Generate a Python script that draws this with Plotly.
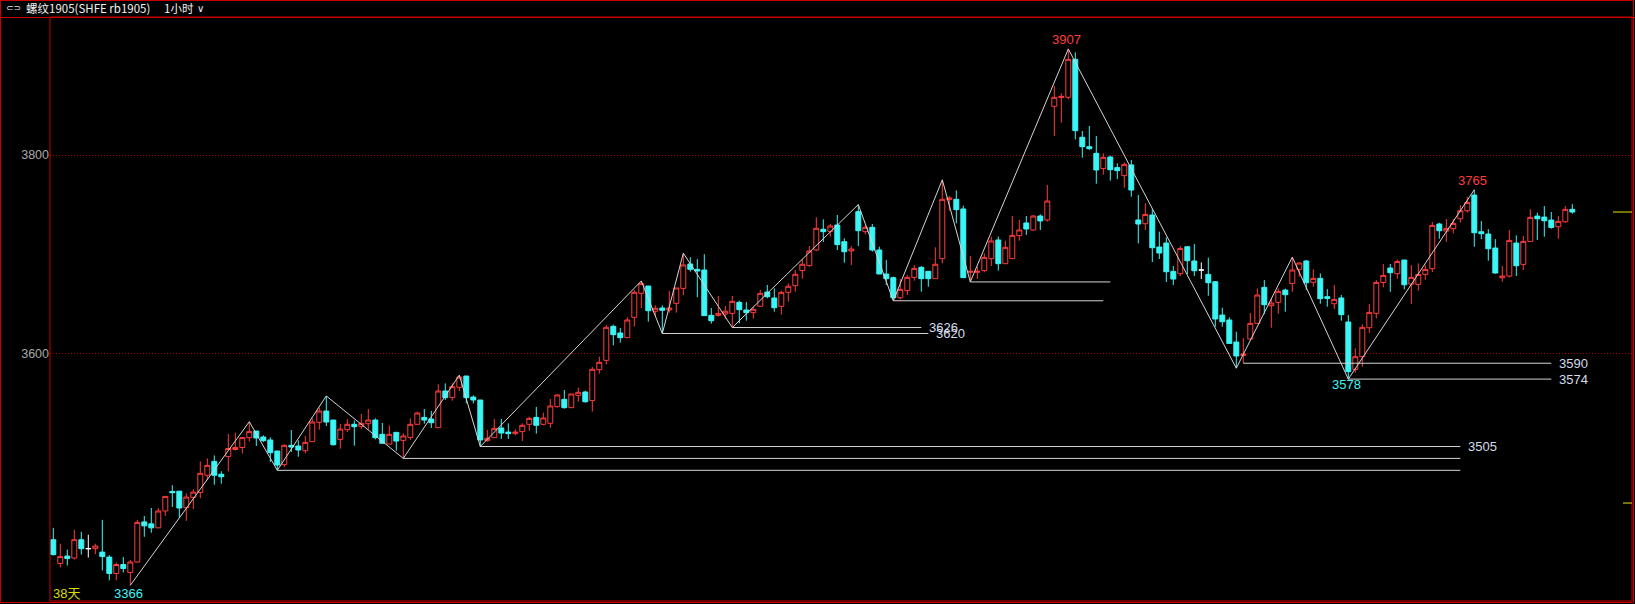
import plotly.graph_objects as go

# ---------------- data (1-hour bars, rb1905) ----------------
open_ = [
    3412, 3388, 3395.5, 3393.5, 3412, 3403, 3403, 3399.5, 3394.5, 3378,
    3387, 3379, 3389.5, 3430, 3428, 3424, 3441, 3460.7, 3461, 3444.3,
    3454.7, 3459.7, 3477, 3491, 3478, 3496, 3503, 3505, 3515, 3521.6,
    3515.6, 3512.6, 3501.5, 3487.7, 3507.2, 3506.5, 3501.8, 3510.9, 3530.4, 3541.8,
    3532.7, 3513.2, 3523, 3528.4, 3526.3, 3529, 3532.7, 3518.3, 3508.5, 3520.3,
    3512.2, 3515.2, 3528.4, 3535.4, 3533.7, 3525, 3562, 3555.3, 3565.7, 3577.1,
    3555.9, 3552.9, 3511.9, 3514.9, 3524.7, 3520.6, 3519, 3521, 3528.4, 3535.4,
    3528.4, 3529.4, 3546.2, 3553.6, 3545.2, 3557.6, 3561, 3552.3, 3583.5, 3592.9,
    3627.2, 3620.5, 3615.8, 3636.3, 3660.5, 3667.9, 3642.4, 3645.7, 3643.7, 3650.4,
    3665.5, 3690.1, 3684.7, 3684, 3638.3, 3638.3, 3639.7, 3640.3, 3651.4, 3643.7,
    3641, 3647.4, 3661.8, 3655.8, 3647.4, 3661.5, 3668.2, 3683.4, 3688.4, 3704.2,
    3725.1, 3723, 3729.4, 3712.6, 3703.2, 3742.9, 3722.7, 3727.1, 3704.2, 3680,
    3676.3, 3656.1, 3663.2, 3676.6, 3686.7, 3682.7, 3675.3, 3695.5, 3755, 3755.3,
    3745.6, 3681.7, 3681.7, 3683.4, 3695.5, 3714.3, 3690.4, 3695.5, 3718.7, 3731.5,
    3724.4, 3738.5, 3734.5, 3849.1, 3857.9, 3858.2, 3896.5, 3817.9, 3808.4, 3801.7,
    3786.3, 3798, 3787.3, 3779.2, 3790, 3734.5, 3730.7, 3739.5, 3707.2, 3711.2,
    3682.6, 3680.3, 3707.5, 3693.1, 3684, 3679.6, 3672.2, 3638.6, 3633.6, 3611.4,
    3597.9, 3614.4, 3630.2, 3666.5, 3648, 3651.4, 3663.8, 3670.5, 3684.7, 3693.1,
    3671.6, 3675.6, 3657.1, 3650, 3655.8, 3631.6, 3583.8, 3596.6, 3625.8, 3640.3,
    3671.5, 3686, 3680.3, 3694.1, 3669.8, 3669.5, 3679.6, 3685.3, 3730.4, 3723.3,
    3725.7, 3735.7, 3743.8, 3759.6, 3722.6, 3720.3, 3706.2, 3676.2, 3677.9, 3711.2,
    3689.7, 3712.9, 3738.4, 3737.4, 3734.4, 3727.7, 3732.7, 3745.2,
]
high_ = [
    3424, 3408, 3402, 3422, 3420, 3417, 3408, 3432, 3396.5, 3389,
    3394.5, 3391.5, 3432, 3436, 3444, 3444, 3456, 3467, 3461, 3458.7,
    3463, 3491, 3494, 3497, 3481, 3518.6, 3520, 3515.5, 3531, 3521.6,
    3517.3, 3515.2, 3501.5, 3508.2, 3522.6, 3512.2, 3516.6, 3534.4, 3545.2, 3557,
    3532.7, 3528.7, 3533.7, 3532.1, 3538.8, 3543.8, 3534.4, 3529.7, 3527.3, 3520.3,
    3519.3, 3534.4, 3541.1, 3543.8, 3541.8, 3568.7, 3569.7, 3569.7, 3578, 3577.1,
    3557.6, 3552.9, 3522.7, 3533.8, 3533.8, 3529.4, 3523.3, 3529.4, 3536.1, 3545.9,
    3540.1, 3553.9, 3559, 3563, 3559, 3565.4, 3562.3, 3586.2, 3596.6, 3628.6,
    3628.9, 3625.5, 3636.3, 3663.9, 3673, 3667.9, 3648.4, 3648.4, 3662.9, 3665.9,
    3701, 3696.8, 3695, 3700, 3645.7, 3657.8, 3647.7, 3657.8, 3653.1, 3651.8,
    3647.1, 3663.9, 3668.9, 3665.5, 3663.2, 3670.6, 3684, 3695.1, 3708.2, 3737.2,
    3735.1, 3730.4, 3739.5, 3716, 3708.2, 3750, 3729.4, 3730.4, 3707.6, 3694.1,
    3677.3, 3675, 3679, 3688.8, 3688.1, 3682.7, 3706.9, 3775, 3758.7, 3764.4,
    3748.9, 3698.2, 3687.4, 3700.9, 3717.7, 3717.7, 3713.6, 3738.5, 3734.5, 3738.5,
    3739.5, 3740.2, 3769.8, 3869.6, 3862.2, 3907, 3903.6, 3824.2, 3829.3, 3819.2,
    3801.7, 3799.4, 3791.6, 3792.3, 3795, 3759.7, 3751.2, 3745.2, 3722.7, 3716.9,
    3688, 3708.2, 3707.5, 3710.2, 3691.7, 3696.4, 3672.9, 3646, 3636.3, 3621.8,
    3615.4, 3640.6, 3665.5, 3673.9, 3655.4, 3665.5, 3665.2, 3697, 3691.7, 3694.1,
    3684.7, 3680.6, 3664.8, 3668.9, 3658.8, 3638.6, 3605, 3629.2, 3649.7, 3673.9,
    3690, 3690, 3694.7, 3694.1, 3689, 3690.7, 3689, 3732.4, 3731.7, 3735.4,
    3735.4, 3749.5, 3757.9, 3765, 3733.4, 3725.3, 3715.2, 3688, 3724.3, 3718.9,
    3718.3, 3745.2, 3741.8, 3748.5, 3742.5, 3738.4, 3748.5, 3750.5,
]
low_ = [
    3396, 3384, 3386, 3392, 3397, 3394, 3397.5, 3381, 3371, 3371,
    3379, 3366, 3389, 3415, 3419, 3424, 3436, 3445, 3434, 3431,
    3443, 3454, 3472, 3467.5, 3468.5, 3481, 3502, 3499, 3511, 3506.5,
    3510.5, 3490.4, 3482, 3485.3, 3500.5, 3495.7, 3499.1, 3510.9, 3523, 3526.7,
    3507, 3503.8, 3520.6, 3506.8, 3523.6, 3523, 3513.2, 3509.2, 3508.5, 3501.8,
    3494, 3512.6, 3528.4, 3529, 3524.7, 3525, 3552.9, 3552.2, 3562, 3549.5,
    3549.5, 3506, 3510.9, 3514.9, 3513.6, 3513.6, 3517.3, 3511.6, 3522, 3519,
    3527.4, 3525, 3545.2, 3544.2, 3545.2, 3551.2, 3550.2, 3541.2, 3579.5, 3588.6,
    3608.1, 3610.7, 3615.8, 3626.9, 3645.7, 3631.9, 3637.6, 3620, 3641, 3641,
    3658.5, 3682.4, 3656.5, 3638, 3629.9, 3637, 3635, 3626, 3630.2, 3632.9,
    3635, 3647.4, 3655.5, 3642, 3639, 3652.1, 3662.2, 3675.3, 3687.4, 3703.2,
    3712.3, 3717.7, 3704.2, 3691.4, 3689.1, 3708.2, 3720, 3702.5, 3680, 3668.9,
    3653, 3654.5, 3658.8, 3673.3, 3662.2, 3667.2, 3675.3, 3690.8, 3743.9, 3731.1,
    3676.3, 3672, 3675, 3681.7, 3688.1, 3683.4, 3690.4, 3695.5, 3713.6, 3719.4,
    3723.4, 3724.4, 3732.8, 3819.2, 3832.6, 3856.2, 3815.8, 3797.3, 3805.1, 3771.1,
    3780.2, 3774.2, 3775.8, 3767.1, 3758, 3710.9, 3724.3, 3692.1, 3695.1, 3671.9,
    3668.9, 3677.9, 3680, 3677.9, 3674.9, 3658.1, 3626.8, 3626.8, 3610, 3585,
    3590, 3614.4, 3630.2, 3639.6, 3625.8, 3639.9, 3642, 3662.1, 3677.3, 3663.8,
    3667.2, 3650, 3647, 3644.7, 3632.9, 3574, 3580.4, 3586.5, 3620.8, 3635.2,
    3666.5, 3662.1, 3675.2, 3664.5, 3649.7, 3663.1, 3674.2, 3681.9, 3715.6, 3712.5,
    3720.9, 3731.7, 3741.8, 3707.5, 3715.2, 3693.4, 3680.3, 3672.2, 3676.6, 3677.9,
    3684, 3712.9, 3714.2, 3717.6, 3725.7, 3715.6, 3731.7, 3740.8,
]
close_ = [
    3397, 3395, 3393, 3412, 3403, 3403, 3405.6, 3395, 3378, 3387,
    3383, 3389.5, 3429.5, 3426, 3424, 3441, 3455.7, 3459.4, 3444, 3455,
    3460, 3479, 3487, 3477, 3475.5, 3504, 3505, 3515, 3521, 3514.6,
    3511.9, 3499.8, 3487.3, 3507.2, 3505.5, 3502.5, 3510.2, 3530.7, 3541.8, 3530.7,
    3507.8, 3523.6, 3528.4, 3526, 3529.4, 3532.7, 3514.9, 3509.2, 3518.3, 3511.5,
    3516.6, 3528.4, 3539.8, 3532.7, 3530, 3562, 3555.3, 3566.3, 3576.1, 3555.3,
    3552.9, 3512.6, 3514.3, 3524.3, 3519.6, 3519, 3520.6, 3527.4, 3534.4, 3527.4,
    3534.8, 3546.9, 3558, 3545.2, 3559, 3560.7, 3551.2, 3583.9, 3590.9, 3626.2,
    3618.8, 3615.8, 3633.6, 3661.5, 3670.3, 3643, 3645.4, 3643.4, 3645.7, 3665.9,
    3689.1, 3684.7, 3683, 3638, 3632.9, 3640.3, 3642.4, 3652.4, 3644, 3641,
    3644.4, 3660.5, 3657.1, 3646, 3661.5, 3667.6, 3679.7, 3689.8, 3703.2, 3726.1,
    3722.7, 3728.4, 3709.6, 3702.5, 3705.2, 3723.7, 3727.1, 3704.2, 3680, 3675.3,
    3656.1, 3664.5, 3676.6, 3685.7, 3675.3, 3675.3, 3689.8, 3755.3, 3756.7, 3744.9,
    3676.3, 3682.7, 3682.7, 3696.8, 3713.3, 3690.4, 3706.9, 3719, 3724.4, 3725.4,
    3738.5, 3733.5, 3753.6, 3858.2, 3859.2, 3896.5, 3824.6, 3808.4, 3806.4, 3784.9,
    3797.7, 3785.2, 3784.2, 3790.6, 3764.7, 3730.4, 3740.1, 3706.5, 3701.2, 3682.3,
    3674.9, 3705.8, 3693.4, 3683.3, 3684, 3671.2, 3634.6, 3631.9, 3610, 3597.3,
    3599.3, 3630.2, 3658.8, 3649, 3650.7, 3662.5, 3659.1, 3684, 3691.1, 3671.2,
    3675.6, 3655.1, 3655.4, 3654.4, 3639, 3581.5, 3596.6, 3626.2, 3641.3, 3671.5,
    3678.6, 3681.3, 3692.7, 3669.2, 3676.6, 3679.6, 3684.6, 3729, 3723.6, 3726,
    3731, 3743.8, 3752.2, 3721.6, 3720.6, 3705.5, 3681, 3677.9, 3713.9, 3688.3,
    3712.9, 3737.1, 3735.7, 3733.7, 3727, 3733.1, 3745.2, 3742.5,
]

# zigzag pivots (1-based bar numbers), alternating low / high starting with a low
zigzag_bars = [12, 29, 33, 40, 51, 59, 62, 85, 88, 91, 98, 116, 121, 128, 132, 146, 170, 178, 186, 204]

# horizontal support lines: start bar (its low), end bar, label
support_start = [33, 51, 62, 88, 98, 121, 132, 171, 186]
support_end = [202, 202, 202, 126, 125, 151, 152, 215, 215]
support_label = ["", "", "3505", "3620", "3626", "", "", "3590", "3574"]

# extreme labels
peak_bars = [146, 204]
peak_text = ["3907", "3765"]
trough_bars = [186, 12]
trough_text = ["3578", "3366"]

y_ticks = [3600, 3800]
aux_level = 3449

title_main = "螺纹1905(SHFE rb1905)"
title_period = "1小时"
days_text = "38天"

# ---------------- styling ----------------
UP = "#ff3c3c"
DN = "#3cf5f5"
FRAME = "#c80000"
GRID = "#a00000"
LINEC = "#d4d4d4"
W, H = 1635, 604
ML, MR, MT, MB = 50, 3, 17, 3
PW, PH = W - ML - MR, H - MT - MB
SPACING = 7.0
FIRST_X = 53.3
NUMFONT = "Liberation Sans, Arial, sans-serif"
TROUGH_SHIFT = [4, 1]


def px(xp):
    return (xp - ML) / PW


def py(yp):
    return (H - MB - yp) / PH


n = len(open_)
xs = list(range(n))
x_range = [(ML - FIRST_X) / SPACING, (ML + PW - FIRST_X) / SPACING]
y_range = [3350.2, 3939.2]

normal = [i for i in xs if close_[i] != open_[i]]
doji = [i for i in xs if close_[i] == open_[i]]

fig = go.Figure()

# support lines
sx, sy = [], []
for s, e in zip(support_start, support_end):
    sx += [s - 1, e - 1, None]
    sy += [low_[s - 1], low_[s - 1], None]
fig.add_trace(go.Scatter(x=sx, y=sy, mode="lines", line=dict(color=LINEC, width=1),
                         hoverinfo="skip", showlegend=False))

# zigzag
zx = [b - 1 for b in zigzag_bars]
zy = [low_[b - 1] if k % 2 == 0 else high_[b - 1] for k, b in enumerate(zigzag_bars)]
fig.add_trace(go.Scatter(x=zx, y=zy, mode="lines", line=dict(color=LINEC, width=1),
                         hoverinfo="skip", showlegend=False))

fig.add_trace(go.Candlestick(
    x=[xs[i] for i in normal],
    open=[open_[i] for i in normal], high=[high_[i] for i in normal],
    low=[low_[i] for i in normal], close=[close_[i] for i in normal],
    increasing=dict(line=dict(color=UP, width=1), fillcolor="#000000"),
    decreasing=dict(line=dict(color=DN, width=1), fillcolor=DN),
    whiskerwidth=0, showlegend=False, hoverinfo="skip"))

fig.add_trace(go.Candlestick(
    x=[xs[i] for i in doji],
    open=[open_[i] for i in doji], high=[high_[i] for i in doji],
    low=[low_[i] for i in doji], close=[close_[i] for i in doji],
    increasing=dict(line=dict(color="#ffffff", width=1), fillcolor="#ffffff"),
    decreasing=dict(line=dict(color="#ffffff", width=1), fillcolor="#ffffff"),
    whiskerwidth=0, showlegend=False, hoverinfo="skip"))

annotations = []
for s, e, lab in zip(support_start, support_end, support_label):
    if lab:
        annotations.append(dict(x=e - 1 + 0.8, y=low_[s - 1], xref="x", yref="y", text=lab,
                                showarrow=False, xanchor="left", yanchor="middle",
                                font=dict(family=NUMFONT, size=13, color="#d4dcec")))
for b, t in zip(peak_bars, peak_text):
    annotations.append(dict(x=b - 1, y=high_[b - 1], xref="x", yref="y", text=t,
                            showarrow=False, xanchor="center", yanchor="bottom", xshift=-2, yshift=0,
                            font=dict(family=NUMFONT, size=13, color=UP)))
for b, t, ys in zip(trough_bars, trough_text, TROUGH_SHIFT):
    annotations.append(dict(x=b - 1, y=low_[b - 1], xref="x", yref="y", text=t,
                            showarrow=False, xanchor="center", yanchor="top", xshift=-2, yshift=ys,
                            font=dict(family=NUMFONT, size=13, color=DN)))

# header + corner texts
annotations.append(dict(x=px(4), y=py(8.5), xref="paper", yref="paper", text="⊂⊃",
                        showarrow=False, xanchor="left", yanchor="middle",
                        font=dict(family="DejaVu Sans", size=9, color="#e0e0e0")))
annotations.append(dict(x=px(24), y=py(8.5), xref="paper", yref="paper", text=title_main,
                        showarrow=False, xanchor="left", yanchor="middle",
                        font=dict(family="Noto Sans CJK SC", size=11.5, color="#f0f0f0")))
annotations.append(dict(x=px(162), y=py(8.5), xref="paper", yref="paper", text=title_period,
                        showarrow=False, xanchor="left", yanchor="middle",
                        font=dict(family="Noto Sans CJK SC", size=11.5, color="#f0f0f0")))
annotations.append(dict(x=px(195), y=py(8.5), xref="paper", yref="paper", text="∨",
                        showarrow=False, xanchor="left", yanchor="middle",
                        font=dict(family="DejaVu Sans", size=10, color="#f0f0f0")))
annotations.append(dict(x=px(51), y=py(593), xref="paper", yref="paper", text=days_text,
                        showarrow=False, xanchor="left", yanchor="middle",
                        font=dict(family="Liberation Sans, Noto Sans CJK SC", size=13, color="#dcdc00")))

shapes = [
    # outer border
    dict(type="rect", xref="paper", yref="paper", x0=px(0.5), x1=px(W - 1.5), y0=py(H - 1.5), y1=py(0.5),
         line=dict(color=FRAME, width=1), fillcolor="rgba(0,0,0,0)", layer="above"),
    # header separator
    dict(type="line", xref="paper", yref="paper", x0=px(0), x1=px(W), y0=py(17.5), y1=py(17.5),
         line=dict(color=FRAME, width=1), layer="above"),
    # plot frame
    dict(type="rect", xref="paper", yref="paper", x0=0, x1=1, y0=0, y1=1,
         line=dict(color=FRAME, width=1), fillcolor="rgba(0,0,0,0)", layer="above"),
    # last price marker
    dict(type="line", xref="paper", yref="y", x0=px(1613), x1=1, y0=close_[-1], y1=close_[-1],
         line=dict(color="#e6e600", width=1), layer="above"),
    dict(type="line", xref="paper", yref="y", x0=px(1623), x1=1, y0=aux_level, y1=aux_level,
         line=dict(color="#e6e600", width=1), layer="above"),
]

fig.update_layout(
    width=W, height=H,
    margin=dict(l=ML, r=MR, t=MT, b=MB, pad=0),
    paper_bgcolor="#000000", plot_bgcolor="#000000",
    showlegend=False,
    boxgap=0.29, boxgroupgap=0,
    hovermode=False,
    xaxis=dict(range=x_range, visible=False, showgrid=False, zeroline=False,
               rangeslider=dict(visible=False), fixedrange=True),
    yaxis=dict(range=y_range, tickvals=y_ticks, ticktext=[str(v) for v in y_ticks],
               showgrid=True, gridcolor=GRID, griddash="1px,2px", gridwidth=1,
               zeroline=False, showline=False, ticks="",
               tickfont=dict(family=NUMFONT, size=12.5, color="#a8a8a8"), fixedrange=True),
    annotations=annotations,
    shapes=shapes,
)

fig.write_html("out.html", config={"displayModeBar": False, "staticPlot": True},
               post_script="document.body.style.margin='0';document.body.style.overflow='hidden';")
